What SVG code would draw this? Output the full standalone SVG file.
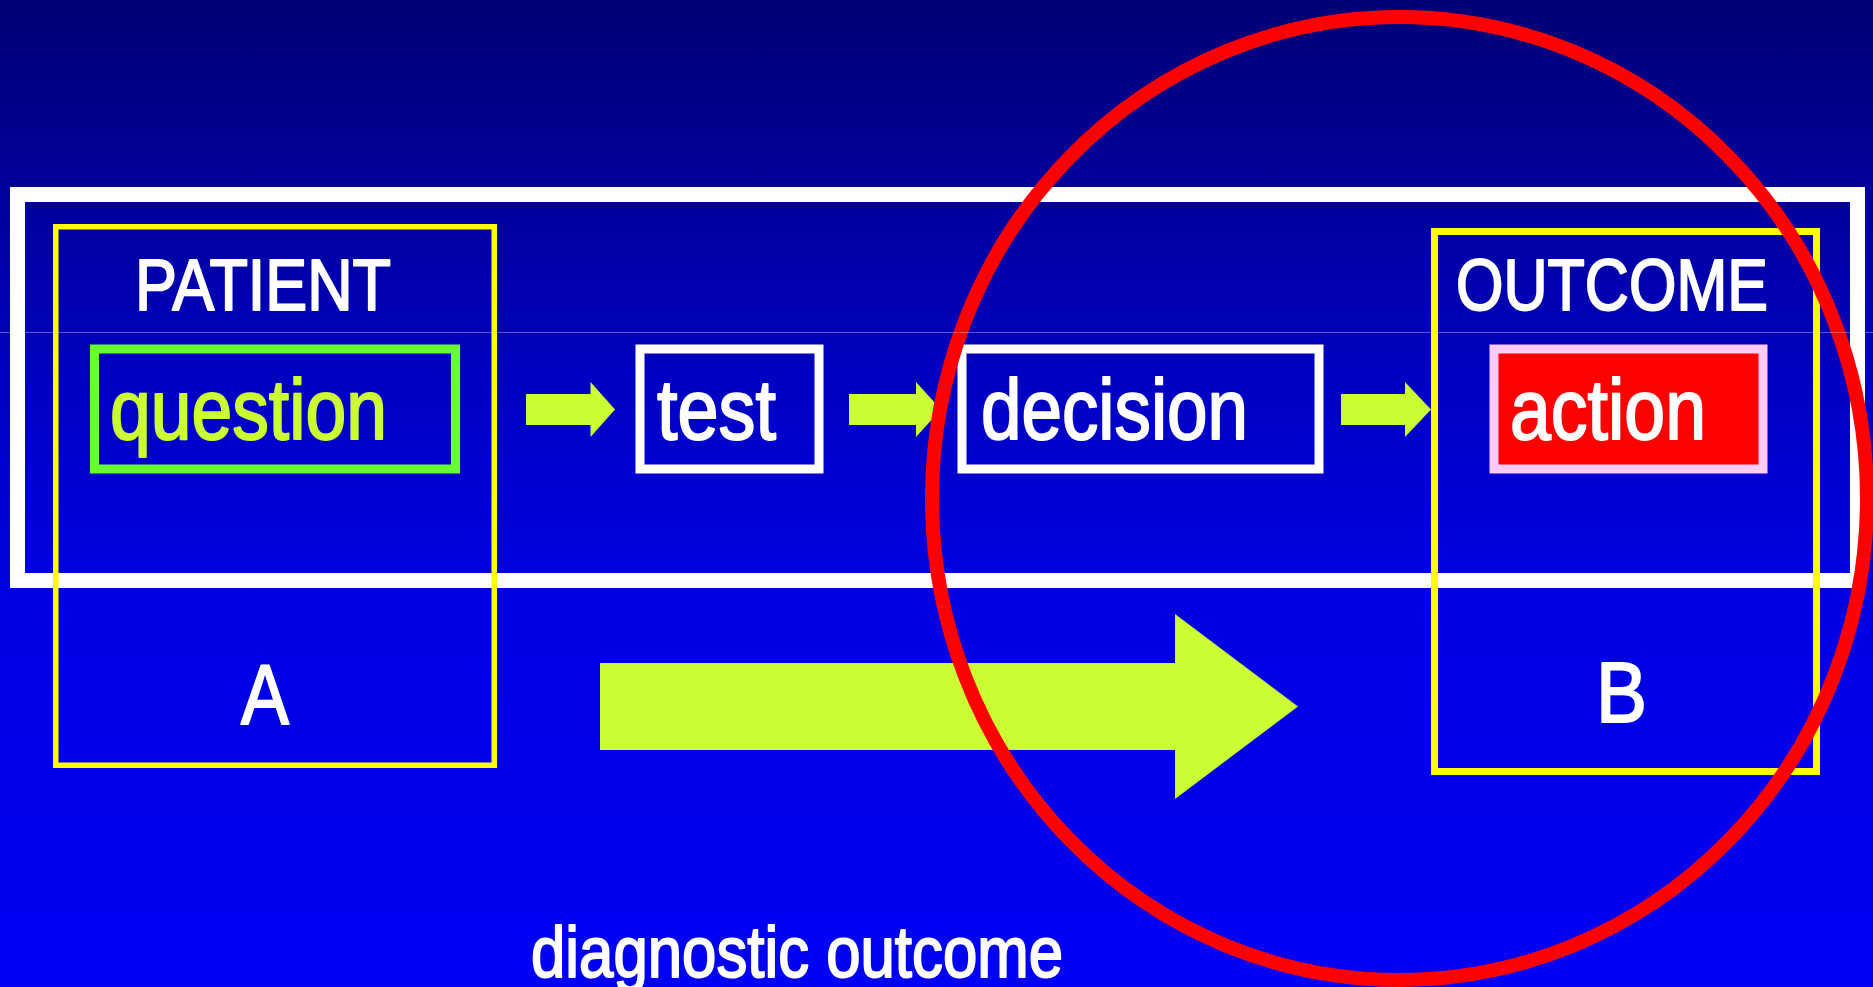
<svg xmlns="http://www.w3.org/2000/svg" width="1873" height="987" viewBox="0 0 1873 987">
  <defs>
    <linearGradient id="bg" x1="0" y1="0" x2="0" y2="987" gradientUnits="userSpaceOnUse">
      <stop offset="0" stop-color="#000075"/>
      <stop offset="0.2" stop-color="#00009c"/>
      <stop offset="0.4" stop-color="#0000c4"/>
      <stop offset="0.6" stop-color="#0000e0"/>
      <stop offset="1" stop-color="#0000f5"/>
    </linearGradient>
    <style>
      .lbl { font-family: "Liberation Sans", Arial, Helvetica, sans-serif; fill: #ffffff; stroke: #ffffff; stroke-width: 2; stroke-linejoin: round; }
      .cap { font-size: 72px; }
      .big { font-size: 85px; }
      .lime { fill: #ccff33; stroke: #ccff33; }
      .frame { fill: none; stroke: #ffffff; stroke-width: 15; }
      .zone { fill: none; stroke: #ffff00; }
      .box { fill: none; stroke: #ffffff; stroke-width: 9; }
      .arrow { fill: #ccff33; }
    </style>
  </defs>

  <!-- backdrop -->
  <rect x="0" y="0" width="1873" height="987" fill="url(#bg)"/>

  <!-- process frame -->
  <rect id="process-frame" class="frame" x="17.5" y="194.5" width="1840" height="386"/>

  <!-- patient zone -->
  <g id="patient">
    <rect class="zone" stroke-width="5.5" x="55.75" y="226.75" width="438.5" height="538.5"/>
    <text class="lbl cap" x="135" y="310" textLength="256" lengthAdjust="spacingAndGlyphs">PATIENT</text>
    <text class="lbl big" x="241" y="724" textLength="48" lengthAdjust="spacingAndGlyphs">A</text>
  </g>

  <g id="question">
    <rect x="94.5" y="349" width="361" height="120" fill="none" stroke="#66ff33" stroke-width="9"/>
    <text class="lbl big lime" x="110" y="439" textLength="277" lengthAdjust="spacingAndGlyphs">question</text>
  </g>

  <g id="test">
    <rect class="box" x="640" y="349" width="179" height="120"/>
    <text class="lbl big" x="657" y="439" textLength="119" lengthAdjust="spacingAndGlyphs">test</text>
  </g>

  <g id="decision">
    <rect class="box" x="962" y="349" width="357" height="120"/>
    <text class="lbl big" x="981" y="439" textLength="267" lengthAdjust="spacingAndGlyphs">decision</text>
  </g>

  <!-- outcome zone -->
  <g id="outcome">
    <rect class="zone" stroke-width="7" x="1434.5" y="231.5" width="382" height="540"/>
    <text class="lbl cap" x="1456" y="310" textLength="312" lengthAdjust="spacingAndGlyphs" style="font-size:73px">OUTCOME</text>
    <text class="lbl big" x="1596" y="721.5" textLength="51" lengthAdjust="spacingAndGlyphs">B</text>
  </g>

  <g id="action">
    <rect x="1494" y="349" width="269" height="120" fill="#ff0000" stroke="#ffccf5" stroke-width="9"/>
    <text class="lbl big" x="1510" y="439" textLength="196" lengthAdjust="spacingAndGlyphs">action</text>
  </g>

  <!-- flow arrows -->
  <g id="connectors">
    <polygon class="arrow" points="526,394 590.5,394 590.5,382 615,409.5 590.5,437 590.5,425 526,425"/>
    <polygon class="arrow" points="849,394 916,394 916,382 941,409.5 916,437 916,425 849,425"/>
    <polygon class="arrow" points="1341,394 1405,394 1405,382 1431,409.5 1405,437 1405,425 1341,425"/>
    <polygon class="arrow" points="600,663 1175,663 1175,614 1298,706.5 1175,799 1175,750 600,750"/>
  </g>

  <text id="caption" class="lbl" x="531" y="977" style="font-size:73px" textLength="532" lengthAdjust="spacingAndGlyphs">diagnostic outcome</text>

  <!-- highlight ring -->
  <ellipse id="highlight" cx="1399.5" cy="498.5" rx="467.5" ry="481.5" fill="none" stroke="#ff0000" stroke-width="14"/>

  <!-- thin scan line -->
  <line x1="0" y1="332.5" x2="1873" y2="332.5" stroke="#ffffff" stroke-opacity="0.35" stroke-width="1"/>
</svg>
